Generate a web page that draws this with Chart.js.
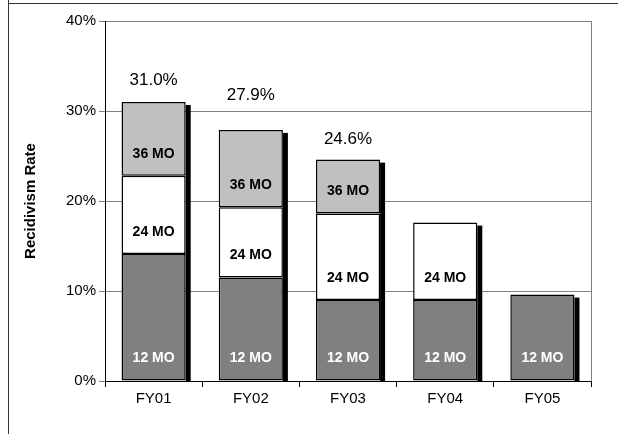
<!DOCTYPE html>
<html><head><meta charset="utf-8">
<script src="https://cdn.jsdelivr.net/npm/chart.js@4"></script>
<style>
html,body{margin:0;padding:0;background:#fff;}
#wrap{position:absolute;left:8px;top:0;width:609px;height:434px;border-left:1px solid #333;box-sizing:border-box;}
#topline{position:absolute;left:8px;right:0;top:3px;height:1px;background:#333;z-index:5;}
canvas{position:absolute;left:-1px;top:0;}
</style></head><body>
<div id="wrap"><canvas id="c" width="609" height="433"></canvas></div>
<div id="topline"></div>
<script>
const years = ['FY01','FY02','FY03','FY04','FY05'];
const mo12 = [14.1, 11.5, 9.0, 9.0, 9.6];
const mo24 = [8.7, 7.8, 9.6, 8.6, 0];
const mo36 = [8.2, 8.6, 6.0, 0, 0];
const totals = ['31.0%','27.9%','24.6%','',''];
const totalPos = [33.4, 31.7, 26.8, 0, 0];
const yTicks = [0,10,20,30,40];

const segLabels = ['12 MO','24 MO','36 MO'];
const FONT = 'Arial, "Liberation Sans", sans-serif';

const shadowPlugin = {
  id:'shadow',
  beforeDatasetsDraw(chart){
    const ctx=chart.ctx; ctx.save(); ctx.fillStyle='#000';
    years.forEach((y,i)=>{
      let top=null, bar=null;
      chart.data.datasets.forEach((ds,d)=>{
        if(ds.data[i]>0){ const el=chart.getDatasetMeta(d).data[i]; if(top===null||el.y<top){top=el.y;} bar=el; }
      });
      if(!bar) return;
      const r=bar.x+bar.width/2, b=chart.scales.y.getPixelForValue(0);
      ctx.fillRect(r, top+3, 5, b-top-3);
    });
    ctx.restore();
  },
  afterDatasetsDraw(chart){
    const ctx=chart.ctx, a=chart.chartArea; ctx.save();
    ctx.strokeStyle='#808080'; ctx.lineWidth=1;
    ctx.beginPath(); ctx.moveTo(a.right+0.5,a.top); ctx.lineTo(a.right+0.5,a.bottom); ctx.stroke();
    ctx.font='bold 14px '+FONT; ctx.textAlign='center'; ctx.textBaseline='middle';
    chart.data.datasets.forEach((ds,d)=>{
      chart.getDatasetMeta(d).data.forEach((el,i)=>{
        if(!(ds.data[i]>0)) return;
        ctx.fillStyle = d===0 ? '#fff' : '#000';
        ctx.fillText(segLabels[d], el.x, el.base-22);
      });
    });
    ctx.font='17px '+FONT; ctx.fillStyle='#000';
    const m=chart.getDatasetMeta(0);
    totals.forEach((t,i)=>{ if(t) ctx.fillText(t, m.data[i].x, chart.scales.y.getPixelForValue(totalPos[i])); });
    ctx.restore();
  }
};

const ds = (data,color)=>({data, backgroundColor:color, borderColor:'#000', borderWidth:1.5, borderSkipped:false, barPercentage:0.66, categoryPercentage:1});

new Chart(document.getElementById('c'),{
  type:'bar',
  data:{labels:years, datasets:[ds(mo12,'#808080'), ds(mo24,'#ffffff'), ds(mo36,'#c0c0c0')]},
  options:{
    responsive:false, animation:false, devicePixelRatio:1,
    layout:{padding:{top:21,right:26,left:14,bottom:22}},
    plugins:{legend:{display:false}, tooltip:{enabled:false}},
    scales:{
      x:{stacked:true, grid:{display:true, drawOnChartArea:false, color:'#000', tickLength:6, offset:true},
         border:{color:'#000'}, ticks:{color:'#000', font:{size:15, family:FONT}}},
      y:{stacked:true, min:0, max:40, afterBuildTicks:(a)=>{a.ticks=yTicks.map(v=>({value:v}));},
         grid:{color:'#808080', tickLength:6, drawTicks:true}, border:{color:'#000'},
         ticks:{color:'#000', callback:v=>v+'%', font:{size:15, family:FONT}},
         title:{display:true, text:'Recidivism Rate', color:'#000', padding:{top:0,bottom:23}, font:{size:15, weight:'bold', family:FONT}}}
    }
  },
  plugins:[shadowPlugin]
});
</script></body></html>
